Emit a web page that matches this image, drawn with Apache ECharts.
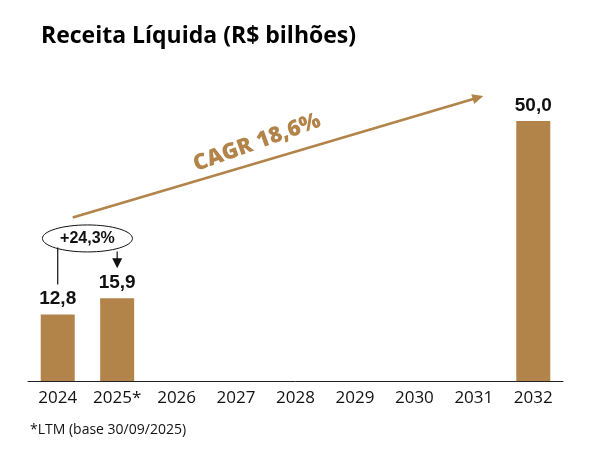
<!DOCTYPE html>
<html><head><meta charset="utf-8">
<script src="https://cdn.jsdelivr.net/npm/echarts@6/dist/echarts.min.js"></script>
<style>html,body{margin:0;padding:0;background:#fff}#c{width:592px;height:459px}</style>
</head><body><div id="c"></div>
<script>
const categories = ['2024','2025*','2026','2027','2028','2029','2030','2031','2032'];
const revenue = [12.8, 15.9, null, null, null, null, null, null, 50.0];
const valueLabels = ['12,8','15,9','','','','','','','50,0'];
const cagrText = 'CAGR 18,6%';
const growthText = '+24,3%';
const titleText = 'Receita Líquida (R$ bilhões)';
const footnote = '*LTM (base 30/09/2025)';

const GOLD = '#B3844A';
const chart = echarts.init(document.getElementById('c'), null, {renderer:'canvas'});
chart.setOption({
  animation:false,
  title:{text:titleText,left:36,top:20,textStyle:{fontFamily:'Open Sans',fontWeight:'bold',fontSize:23,color:'#000'}},
  grid:{left:28,right:29,top:69,bottom:78},
  xAxis:{type:'category',data:categories,
    axisLine:{lineStyle:{color:'#222',width:1}},axisTick:{show:false},
    axisLabel:{interval:0,hideOverlap:false,fontFamily:'Open Sans',fontSize:17,color:'#111',margin:9}},
  yAxis:{type:'value',min:0,max:60,show:false,splitLine:{show:false}},
  series:[{type:'bar',data:revenue,barWidth:34,itemStyle:{color:GOLD},
    label:{show:true,position:'top',distance:6,fontFamily:'Liberation Sans',fontWeight:'bold',fontSize:19,color:'#111',
      formatter:p=>valueLabels[p.dataIndex]}}]
});

function px(cat,val){return chart.convertToPixel({xAxisIndex:0,yAxisIndex:0},[cat,val]);}
const p24 = px(categories[0], revenue[0]);
const p25 = px(categories[1], revenue[1]);
const p32 = px(categories[8], revenue[8]);
const a0 = [p24[0]+15, p24[1]-97];
const a1 = [p32[0]-50, p32[1]-25];
const ang = Math.atan2(a1[1]-a0[1], a1[0]-a0[0]);
const mid = [(a0[0]+a1[0])/2 - 21, (a0[1]+a1[1])/2 - 14];
const ell = [(p24[0]+p25[0])/2 + 0, p24[1]-76];
chart.setOption({graphic:[
  {type:'line',shape:{x1:a0[0],y1:a0[1],x2:a1[0]-6*Math.cos(ang),y2:a1[1]-6*Math.sin(ang)},style:{stroke:GOLD,lineWidth:2.6}},
  {type:'polygon',shape:{points:[
    [a1[0],a1[1]],
    [a1[0]-11*Math.cos(ang)+5*Math.sin(ang), a1[1]-11*Math.sin(ang)-5*Math.cos(ang)],
    [a1[0]-11*Math.cos(ang)-5*Math.sin(ang), a1[1]-11*Math.sin(ang)+5*Math.cos(ang)]
  ]},style:{fill:GOLD}},
  {type:'text',x:mid[0],y:mid[1],rotation:-ang*1.2,
    style:{text:cagrText,fill:GOLD,font:'800 22px "Open Sans"',align:'center',verticalAlign:'middle'}},
  {type:'ellipse',shape:{cx:ell[0],cy:ell[1],rx:45,ry:13.5},style:{fill:'#fff',stroke:'#111',lineWidth:1}},
  {type:'text',x:ell[0],y:ell[1],style:{text:growthText,fill:'#111',font:'bold 16px "Liberation Sans"',align:'center',verticalAlign:'middle'}},
  {type:'line',shape:{x1:p24[0],y1:ell[1]+9,x2:p24[0],y2:p24[1]-30},style:{stroke:'#111',lineWidth:1.2}},
  {type:'line',shape:{x1:p25[0],y1:ell[1]+13,x2:p25[0],y2:p25[1]-38},style:{stroke:'#111',lineWidth:1.2}},
  {type:'polygon',shape:{points:[[p25[0]-5,p25[1]-40],[p25[0]+5,p25[1]-40],[p25[0],p25[1]-30]]},style:{fill:'#111'}},
  {type:'text',left:30,top:423,style:{text:footnote,fill:'#111',font:'14px "Open Sans"'}}
]});
</script></body></html>
